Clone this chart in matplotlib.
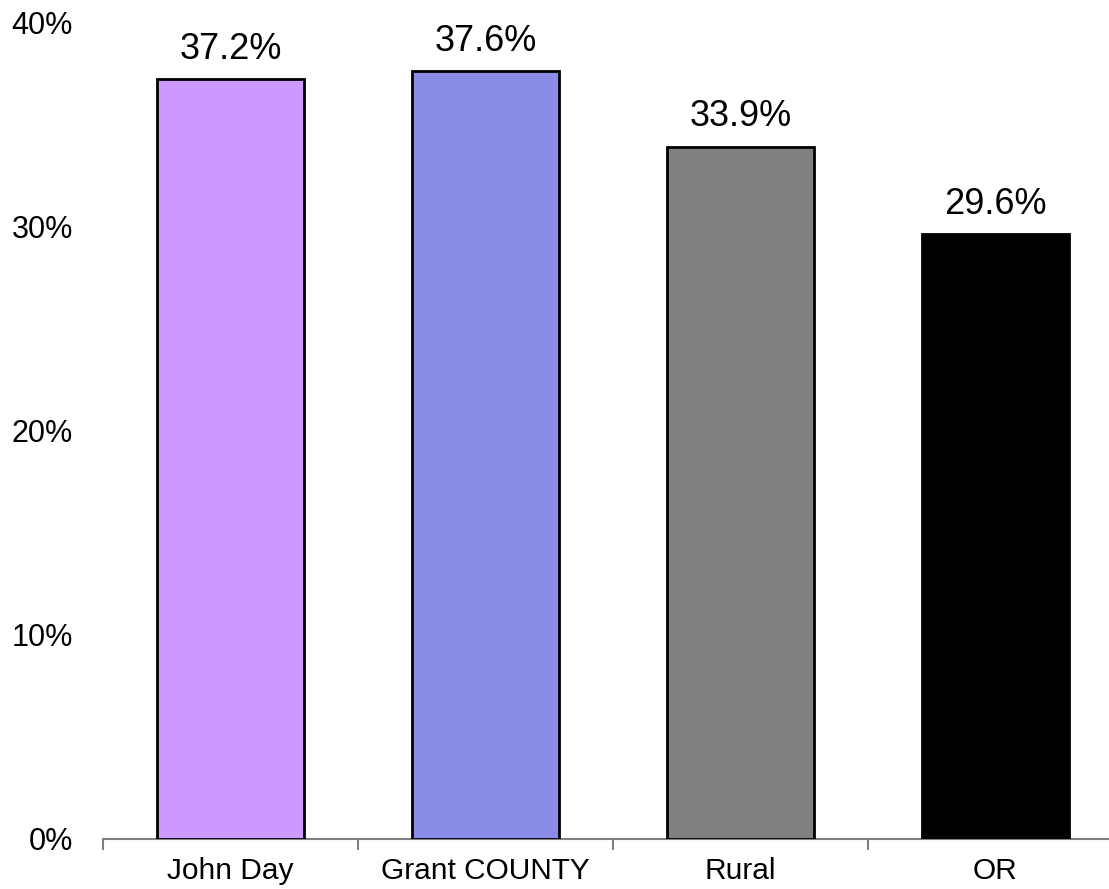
import matplotlib
matplotlib.use("Agg")
import matplotlib.pyplot as plt
from matplotlib.ticker import FixedLocator

categories = ["John Day", "Grant COUNTY", "Rural", "OR"]
values = [37.2, 37.6, 33.9, 29.6]
colors = ["#CC99FF", "#8B8BE8", "#808080", "#000000"]
yticks = [0, 10, 20, 30, 40]
ytick_labels = ["0%", "10%", "20%", "30%", "40%"]

plt.rcParams['font.family'] = ['Liberation Sans', 'DejaVu Sans']

W, H = 1109, 889
fig = plt.figure(figsize=(W / 100, H / 100), dpi=100)
left, right = 103, 1123
top, bottom = 22, 839
ax = fig.add_axes([left / W, 1 - bottom / H, (right - left) / W, (bottom - top) / H])

x = list(range(len(categories)))
ax.bar(x, values, width=0.575, color=colors, edgecolor="black", linewidth=2, zorder=3)
for xi, v in zip(x, values):
    ax.annotate(f"{v:.1f}%", (xi, v), xytext=(0, 9), textcoords="offset points",
                ha="center", va="bottom", fontsize=26)

ax.set_xlim(-0.5, len(categories) - 0.5)
ax.set_ylim(0, 40)
ax.set_yticks(yticks)
ax.set_yticklabels(ytick_labels)
ax.tick_params(axis="y", length=0, pad=21.6, labelsize=22)
ax.set_xticks(x)
ax.set_xticklabels(categories)
ax.xaxis.set_minor_locator(FixedLocator([i - 0.5 for i in range(len(categories) + 1)]))
ax.tick_params(axis="x", which="major", length=0, pad=13, labelsize=21.5)
ax.tick_params(axis="x", which="minor", length=8, width=1.5, color="#808080", direction="out")

for s in ["top", "right", "left"]:
    ax.spines[s].set_visible(False)
ax.spines["bottom"].set_color("#808080")
ax.spines["bottom"].set_linewidth(1.5)

fig.savefig("out.png", dpi=100)
